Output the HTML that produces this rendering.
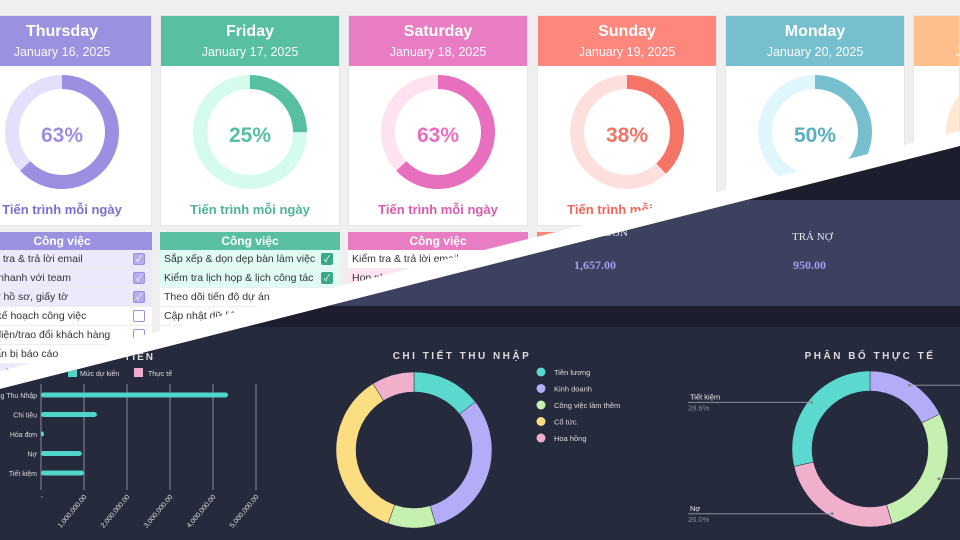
<!DOCTYPE html>
<html><head><meta charset="utf-8">
<style>
*{margin:0;padding:0;box-sizing:border-box}
body{width:960px;height:540px;overflow:hidden;background:#fff;font-family:"Liberation Sans","Noto Sans CJK SC",sans-serif;position:relative}
#light{position:absolute;left:0;top:0;width:960px;height:540px;overflow:hidden;background:#efefef;clip-path:polygon(0 0,960px 0,960px 131px,0 371px)}
#dark{position:absolute;left:0;top:0;width:960px;height:540px;overflow:hidden;background:#1c1e2e;clip-path:polygon(0 389px,960px 146px,960px 540px,0 540px)}
.card{position:absolute;top:15px;width:180px;height:211px;background:#fff;border:1px solid #e6e6e6}
.hd{height:50px;color:#fff;text-align:center}
.hd b{display:block;font-size:16px;padding-top:7px}
.hd span{display:block;font-size:12.5px;margin-top:4px;opacity:.95}
.pct{position:absolute;left:0;width:100%;top:108px;text-align:center;font-size:21px;font-weight:bold}
.prog{position:absolute;left:0;width:100%;top:186px;text-align:center;font-size:13px;font-weight:bold}
.tbl{position:absolute;top:232px;width:180px}
.th{height:18px;line-height:18px;color:#fff;font-weight:bold;font-size:12px;text-align:center}
.tr{height:19px;line-height:19px;font-size:10.5px;color:#333;padding-left:4px;position:relative;border-bottom:1px solid #eee;white-space:nowrap;overflow:hidden}
.cb{position:absolute;right:7px;top:3px;width:12px;height:12px;border:1.5px solid #aaa;border-radius:2px;color:#fff;font-size:9px;line-height:10px;text-align:center}
</style></head><body>
<div id="light">
 <div class="card" style="left:-28px">
  <div class="hd" style="background:#9a92e0"><b>Thursday</b><span>January 16, 2025</span></div>
  <svg style="position:absolute;left:0;top:0" width="180" height="211"><circle cx="89" cy="116" r="50" fill="none" stroke="#e4e0fb" stroke-width="14"/><circle cx="89" cy="116" r="50" fill="none" stroke="#9a8fe0" stroke-width="14" stroke-dasharray="197.9 400" transform="rotate(-90 89 116)"/></svg>
  <div class="pct" style="color:#9a8fe0">63%</div>
  <div class="prog" style="color:#7b6fd6">Tiến trình mỗi ngày</div>
 </div>
 <div class="card" style="left:160px">
  <div class="hd" style="background:#58bfa2"><b>Friday</b><span>January 17, 2025</span></div>
  <svg style="position:absolute;left:0;top:0" width="180" height="211"><circle cx="89" cy="116" r="50" fill="none" stroke="#d5fbef" stroke-width="14"/><circle cx="89" cy="116" r="50" fill="none" stroke="#58bfa2" stroke-width="14" stroke-dasharray="78.5 400" transform="rotate(-90 89 116)"/></svg>
  <div class="pct" style="color:#58bfa2">25%</div>
  <div class="prog" style="color:#4cb494">Tiến trình mỗi ngày</div>
 </div>
 <div class="card" style="left:348px">
  <div class="hd" style="background:#e97dc3"><b>Saturday</b><span>January 18, 2025</span></div>
  <svg style="position:absolute;left:0;top:0" width="180" height="211"><circle cx="89" cy="116" r="50" fill="none" stroke="#fde3ef" stroke-width="14"/><circle cx="89" cy="116" r="50" fill="none" stroke="#e86fbd" stroke-width="14" stroke-dasharray="197.9 400" transform="rotate(-90 89 116)"/></svg>
  <div class="pct" style="color:#e86fbd">63%</div>
  <div class="prog" style="color:#d95aae">Tiến trình mỗi ngày</div>
 </div>
 <div class="card" style="left:537px">
  <div class="hd" style="background:#fd877c"><b>Sunday</b><span>January 19, 2025</span></div>
  <svg style="position:absolute;left:0;top:0" width="180" height="211"><circle cx="89" cy="116" r="50" fill="none" stroke="#fde0dd" stroke-width="14"/><circle cx="89" cy="116" r="50" fill="none" stroke="#f47468" stroke-width="14" stroke-dasharray="119.4 400" transform="rotate(-90 89 116)"/></svg>
  <div class="pct" style="color:#f47468">38%</div>
  <div class="prog" style="color:#f2675a">Tiến trình mỗi ngày</div>
 </div>
 <div class="card" style="left:725px">
  <div class="hd" style="background:#76bfcf"><b>Monday</b><span>January 20, 2025</span></div>
  <svg style="position:absolute;left:0;top:0" width="180" height="211"><circle cx="89" cy="116" r="50" fill="none" stroke="#dff7fc" stroke-width="14"/><circle cx="89" cy="116" r="50" fill="none" stroke="#76bfcf" stroke-width="14" stroke-dasharray="157 400" transform="rotate(-90 89 116)"/></svg>
  <div class="pct" style="color:#5aaec0">50%</div>
  <div class="prog" style="color:#5aaec0">Tiến trình mỗi ngày</div>
 </div>
 <div class="card" style="left:913px;width:47px;overflow:hidden">
  <div class="hd" style="background:#ffbf8c;width:180px"><b>Tuesday</b><span>January 21, 2025</span></div>
  <svg style="position:absolute;left:0;top:0" width="180" height="211"><circle cx="89" cy="116" r="50" fill="none" stroke="#ffe8d3" stroke-width="14"/></svg>
 </div>

 <div class="tbl" style="left:-28px">
  <div class="th" style="background:#9a92e0">Công việc</div>
  <div class="tr" style="background:#ece9fb">Kiểm tra &amp; trả lời email<span class="cb" style="border-color:#9a92e0;background:#b4acec">✓</span></div>
  <div class="tr" style="background:#ece9fb">Họp nhanh với team<span class="cb" style="border-color:#9a92e0;background:#b4acec">✓</span></div>
  <div class="tr" style="background:#ece9fb">Xử lý hồ sơ, giấy tờ<span class="cb" style="border-color:#9a92e0;background:#b4acec">✓</span></div>
  <div class="tr" style="background:#fff">Lên kế hoạch công việc<span class="cb" style="border-color:#9a92e0"></span></div>
  <div class="tr" style="background:#fff">Gọi điện/trao đổi khách hàng<span class="cb" style="border-color:#9a92e0"></span></div>
  <div class="tr" style="background:#fff">Chuẩn bị báo cáo</div>
  <div class="tr" style="background:#ece9fb">Họp với đối tác</div>
 </div>
 <div class="tbl" style="left:160px">
  <div class="th" style="background:#58bfa2">Công việc</div>
  <div class="tr" style="background:#e0fbf3">Sắp xếp &amp; dọn dẹp bàn làm việc<span class="cb" style="border-color:#3aa886;background:#3aa886">✓</span></div>
  <div class="tr" style="background:#e0fbf3">Kiểm tra lịch họp &amp; lịch công tác<span class="cb" style="border-color:#3aa886;background:#3aa886">✓</span></div>
  <div class="tr" style="background:#fff">Theo dõi tiến độ dự án<span class="cb" style="border-color:#3aa886;background:#3aa886">✓</span></div>
  <div class="tr" style="background:#fff">Cập nhật dữ liệu hệ thống</div>
  <div class="tr" style="background:#fff">Hỗ trợ đồng nghiệp</div>
 </div>
 <div class="tbl" style="left:348px">
  <div class="th" style="background:#e97dc3">Công việc</div>
  <div class="tr" style="background:#fff">Kiểm tra &amp; trả lời email</div>
  <div class="tr" style="background:#fde4f0">Họp nhóm</div>
 </div>
 <div class="tbl" style="left:537px">
  <div class="th" style="background:#fd877c">Công việc</div>
 </div>
</div>

<div id="dark">
<svg width="960" height="540" style="position:absolute;left:0;top:0" id="ds">
 <rect x="0" y="200" width="960" height="106" fill="#3d4160"/>
 <rect x="0" y="327" width="960" height="213" fill="#252a3c"/>
 <text x="578" y="236" fill="#e6e6ee" font-family="Liberation Serif" font-size="11">HÓA ĐƠN</text>
 <text x="574" y="269" fill="#9fa0f0" font-family="Liberation Serif" font-size="12" font-weight="bold">1,657.00</text>
 <text x="792" y="240" fill="#e6e6ee" font-family="Liberation Serif" font-size="11">TRẢ NỢ</text>
 <text x="793" y="269" fill="#9fa0f0" font-family="Liberation Serif" font-size="12" font-weight="bold">950.00</text>
 <text x="155" y="360" text-anchor="end" fill="#ddd" font-size="10" font-weight="bold" letter-spacing="2">DÒNG TIỀN</text>
 <rect x="68" y="368" width="9" height="9" fill="#4fd6c8"/>
 <text x="80" y="376" fill="#ddd" font-size="7">Mức dự kiến</text>
 <rect x="134" y="368" width="9" height="9" fill="#f0aacb"/>
 <text x="148" y="376" fill="#ddd" font-size="7">Thực tế</text>
 <g id="bars"></g>
 <text x="462" y="359" text-anchor="middle" fill="#ddd" font-size="10" font-weight="bold" letter-spacing="2.5">CHI TIẾT THU NHẬP</text>
 <g id="pie1"></g><g id="leg1"></g>
 <text x="870" y="359" text-anchor="middle" fill="#ddd" font-size="10" font-weight="bold" letter-spacing="2.5">PHÂN BỐ THỰC TẾ</text>
 <g id="pie2"></g>
</svg>
</div>
<script>
const barCategories=["Tổng Thu Nhập","Chi tiêu","Hóa đơn","Nợ","Tiết kiệm"];
const plannedValues=[4350000,1300000,50000,950000,1000000];
const actualValues=[0,0,0,0,0];
const xTickValues=[0,1000000,2000000,3000000,4000000,5000000];
const xTickLabels=["-","1,000,000.00","2,000,000.00","3,000,000.00","4,000,000.00","5,000,000.00"];
const incomeLabels=["Tiền lương","Kinh doanh"," Công việc làm thêm","Cổ tức.","Hoa hồng"];
const incomeValues=[14.4,31.1,9.9,35.8,8.8];
const allocLabels=["Chi tiêu","Hóa đơn","Nợ","Tiết kiệm"];
const allocValues=[17.6,27.8,26.0,28.6];
</script>
<script>
const NS="http://www.w3.org/2000/svg";
function mk(p,t,a){const e=document.createElementNS(NS,t);for(const k in a)e.setAttribute(k,a[k]);p.appendChild(e);return e;}
const X=v=>41+v/5000000*215;
const Y=i=>395+i*19.5;
const bars=document.getElementById('bars');
xTickValues.forEach((v,i)=>{
 const g=mk(bars,'line',{x1:X(v),x2:X(v),y1:384,y2:490,stroke:'#8a8c99','stroke-width':1});
 
 
 const t=mk(bars,'text',{x:X(v)+3,y:497,'text-anchor':'end',fill:'#ddd','font-size':7,transform:`rotate(-50 ${X(v)+3} 497)`});
 t.textContent=xTickLabels[i];
 
 
});
barCategories.forEach((c,i)=>{
 const t=mk(bars,'text',{x:37,y:Y(i)+3,'text-anchor':'end',fill:'#ddd','font-size':7});
 t.textContent=c;
 
 
 const w=Math.max(X(plannedValues[i])-X(0),3);
 const r=mk(bars,'rect',{x:X(0),y:Y(i)-2.5,width:w,height:5,rx:2.5,fill:'#4fd6c8'});
 
 
 if(actualValues[i]>0){const a=mk(bars,'rect',{x:X(0),y:Y(i)+3,width:X(actualValues[i])-X(0),height:5,rx:2.5,fill:'#f0aacb'});
 
 }
});
function donut(g,cx,cy,ro,ri,vals,cols,name){
 const tot=vals.reduce((a,b)=>a+b,0);let a0=0;const mids=[];
 vals.forEach((v,i)=>{const a1=a0+v/tot*2*Math.PI;
  const p=(a,r)=>[cx+r*Math.sin(a),cy-r*Math.cos(a)];
  const [x1,y1]=p(a0,ro),[x2,y2]=p(a1,ro),[x3,y3]=p(a1,ri),[x4,y4]=p(a0,ri);const L=a1-a0>Math.PI?1:0;
  const s=mk(g,'path',{d:`M${x1},${y1}A${ro},${ro} 0 ${L} 1 ${x2},${y2}L${x3},${y3}A${ri},${ri} 0 ${L} 0 ${x4},${y4}Z`,fill:cols[i],stroke:'#252a3c','stroke-width':0.5});
  
  
  mids.push((a0+a1)/2);a0=a1;});
 return mids;
}
const c1=["#5cd9cf","#b3acf7","#c6f0b0","#fbdd82","#f0b0cc"];
donut(document.getElementById('pie1'),414,450,78,58,incomeValues,c1,'income');
const leg=document.getElementById('leg1');
incomeLabels.forEach((l,i)=>{
 const y=372+i*16.5;
 const d=mk(leg,'circle',{cx:541,cy:y,r:4.5,fill:c1[i]});
 
 
 const t=mk(leg,'text',{x:554,y:y+3,fill:'#ddd','font-size':7.5});
 t.textContent=l;
 
 
});
const c2=["#b3acf7","#c6f0b0","#f0b0cc","#5cd9cf"];
const p2=document.getElementById('pie2');
const mids=donut(p2,870,449,78,58,allocValues,c2,'allocation');
mids.forEach((a,i)=>{
 const x=870+75*Math.sin(a),y=449-75*Math.cos(a);const left=Math.sin(a)<0;
 const ln=mk(p2,'line',{x1:x,y1:y,x2:left?688:960,y2:y,stroke:'#9a9ca8','stroke-width':0.8});
 
 
 mk(p2,'circle',{cx:x,cy:y,r:1.5,fill:'#888'});
 if(left){
  const t=mk(p2,'text',{x:690,y:y-3,fill:'#eee','font-size':7.5});t.textContent=allocLabels[i];
  
  
  const q=mk(p2,'text',{x:688,y:y+8,fill:'#8a8c99','font-size':7.5});q.textContent=allocValues[i].toFixed(1)+'%';
  
  
 }
});
</script>
</body></html>
